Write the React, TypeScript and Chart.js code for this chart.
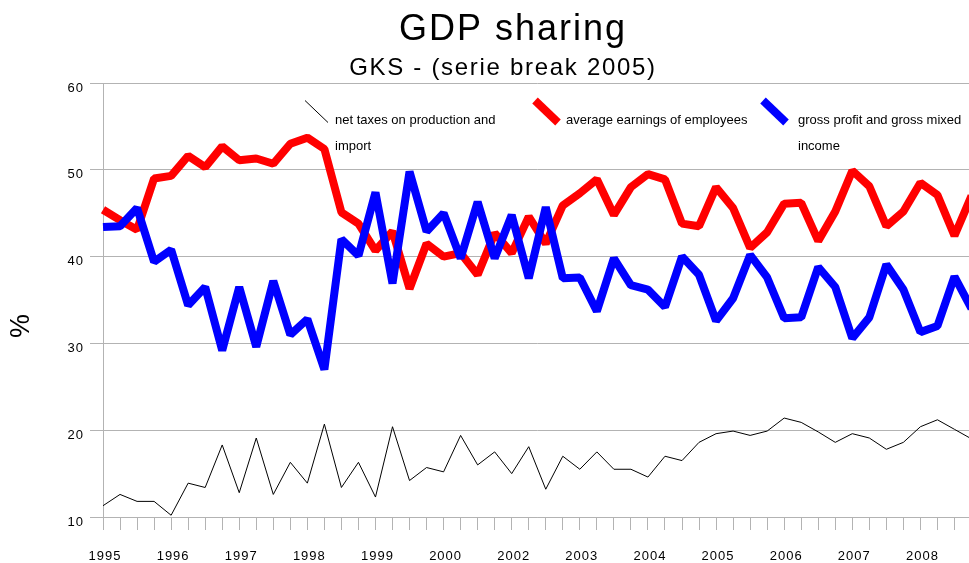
import React, { useEffect, useRef } from 'react';
import { Chart, registerables } from 'chart.js';

Chart.register(...registerables);

// ---- data ----
const yearTicks = ['1995', '1996', '1997', '1998', '1999', '2000', '2002', '2003', '2004', '2005', '2006', '2007', '2008'];

const netTaxes = [
  11.3, 12.6, 11.8, 11.8, 10.2, 13.9, 13.4, 18.3, 12.8, 19.1,
  12.6, 16.3, 13.9, 20.7, 13.4, 16.3, 12.3, 20.4, 14.2, 15.7,
  15.2, 19.4, 16.0, 17.5, 15.0, 18.1, 13.2, 17.0, 15.5, 17.5,
  15.5, 15.5, 14.6, 17.0, 16.5, 18.6, 19.6, 19.9, 19.4, 19.9,
  21.4, 20.9, 19.8, 18.6, 19.6, 19.1, 17.8, 18.6, 20.4, 21.2,
  20.1, 19.0,
];

const avgEarnings = [
  45.4, 44.2, 43.1, 49.0, 49.3, 51.6, 50.3, 52.7, 51.1, 51.3,
  50.7, 53.0, 53.7, 52.4, 45.1, 43.8, 40.7, 42.9, 36.3, 41.5,
  40.0, 40.4, 37.9, 42.7, 40.4, 44.6, 41.5, 45.9, 47.3, 48.9,
  44.8, 48.0, 49.5, 48.9, 43.8, 43.5, 48.0, 45.6, 41.0, 42.8,
  46.1, 46.2, 41.8, 45.2, 49.9, 48.1, 43.5, 45.2, 48.5, 47.1,
  42.4, 47.0,
];

const grossProfit = [
  43.4, 43.5, 45.6, 39.4, 40.8, 34.4, 36.5, 29.2, 36.5, 29.6,
  37.2, 31.0, 32.8, 27.0, 42.0, 40.1, 47.4, 36.9, 49.8, 42.9,
  45.0, 39.8, 46.3, 39.8, 44.8, 37.5, 45.7, 37.5, 37.6, 33.7,
  39.8, 36.7, 36.2, 34.2, 40.0, 37.9, 32.6, 35.2, 40.2, 37.6,
  32.9, 33.0, 38.8, 36.5, 30.6, 33.0, 39.1, 36.2, 31.3, 32.0,
  37.7, 34.0,
];

const seriesNames = [
  'net taxes on production and import',
  'average earnings of employees',
  'gross profit and gross mixed income',
];
const titleText = 'GDP sharing';
const subtitleText = 'GKS - (serie break 2005)';
const yAxisTitle = '%';

const categories = netTaxes.map((_, i) => `${yearTicks[Math.floor(i / 4)]} Q${(i % 4) + 1}`);

// ---- styling ----
const FONT = '"Liberation Sans", Arial, Helvetica, sans-serif';
const GRID = '#b3b3b3';
const CANVAS_W = 990;
const CANVAS_H = 563;

const legendSampleX = [305, 535, 763];
const legendTextX = [335, 566, 798];
const legendWrap = 190;

function wrapText(ctx: CanvasRenderingContext2D, text: string, maxW: number): string[] {
  const words = text.split(' ');
  const lines: string[] = [];
  let cur = '';
  for (const w of words) {
    const test = cur ? cur + ' ' + w : w;
    if (cur && ctx.measureText(test).width > maxW) {
      lines.push(cur);
      cur = w;
    } else {
      cur = test;
    }
  }
  if (cur) lines.push(cur);
  return lines;
}

const decorPlugin = {
  id: 'decor',
  beforeDraw(chart: any) {
    (chart.ctx as any).letterSpacing = '1px';
  },
  afterDraw(chart: any) {
    const ctx = chart.ctx as CanvasRenderingContext2D & { letterSpacing: string };
    // titles
    ctx.save();
    ctx.fillStyle = '#000';
    ctx.textAlign = 'center';
    ctx.textBaseline = 'alphabetic';
    ctx.letterSpacing = '2px';
    ctx.font = `36px ${FONT}`;
    ctx.fillText(titleText, 513, 40);
    ctx.letterSpacing = '1.7px';
    ctx.font = `24px ${FONT}`;
    ctx.fillText(subtitleText, 503, 75);
    ctx.restore();

    // y axis title
    ctx.save();
    ctx.letterSpacing = '0px';
    ctx.fillStyle = '#000';
    ctx.translate(22, 326);
    ctx.rotate(-Math.PI / 2);
    ctx.textAlign = 'center';
    ctx.textBaseline = 'middle';
    ctx.font = `27px ${FONT}`;
    ctx.fillText(yAxisTitle, 0, 0);
    ctx.restore();

    // legend
    ctx.save();
    ctx.letterSpacing = '0px';
    ctx.font = `13px ${FONT}`;
    ctx.textAlign = 'left';
    ctx.textBaseline = 'middle';
    chart.data.datasets.forEach((ds: any, i: number) => {
      const sx = legendSampleX[i];
      ctx.strokeStyle = ds.borderColor;
      ctx.lineWidth = ds.borderWidth;
      ctx.lineCap = 'butt';
      ctx.beginPath();
      ctx.moveTo(sx, 100.5);
      ctx.lineTo(sx + 23, 122.5);
      ctx.stroke();
      ctx.fillStyle = '#000';
      const lines = wrapText(ctx, ds.label, legendWrap);
      lines.forEach((ln, k) => ctx.fillText(ln, legendTextX[i], 120 + k * 26.7));
    });
    ctx.restore();
  },
};

export default function App() {
  const ref = useRef<HTMLCanvasElement | null>(null);

  useEffect(() => {
    if (!ref.current) return;
    Chart.defaults.font.family = FONT;
    const chart = new Chart(ref.current, {
      type: 'line',
      data: {
        labels: categories,
        datasets: [
          {
            label: seriesNames[0],
            data: netTaxes,
            borderColor: '#000000',
            backgroundColor: '#000000',
            borderWidth: 1,
            pointRadius: 0,
            tension: 0,
            fill: false,
            order: 2,
          },
          {
            label: seriesNames[1],
            data: avgEarnings,
            borderColor: '#ff0000',
            backgroundColor: '#ff0000',
            borderWidth: 8,
            borderJoinStyle: 'bevel',
            pointRadius: 0,
            tension: 0,
            fill: false,
            order: 1,
          },
          {
            label: seriesNames[2],
            data: grossProfit,
            borderColor: '#0000ff',
            backgroundColor: '#0000ff',
            borderWidth: 8,
            borderJoinStyle: 'bevel',
            pointRadius: 0,
            tension: 0,
            fill: false,
            order: 0,
          },
        ],
      },
      options: {
        animation: false,
        responsive: false,
        devicePixelRatio: 1,
        layout: { padding: { top: 83, left: 0, right: 11, bottom: 0 } },
        plugins: {
          legend: { display: false },
          title: { display: false },
          tooltip: { enabled: false },
        },
        scales: {
          x: {
            type: 'category',
            offset: false,
            grid: { drawOnChartArea: false, drawTicks: true, tickLength: 13, color: GRID },
            border: { color: GRID },
            ticks: {
              autoSkip: false,
              maxRotation: 0,
              minRotation: 0,
              color: '#000',
              font: { size: 13 },
              padding: 18.5,
              labelOffset: 2,
              callback: (_v: any, idx: number) => (idx % 4 === 0 ? yearTicks[idx / 4] ?? '' : ''),
            },
            afterFit: (scale: any) => {
              scale.height = 46;
            },
          },
          y: {
            min: 10,
            max: 60,
            grid: { color: GRID, tickLength: 13 },
            border: { color: GRID },
            ticks: {
              stepSize: 10,
              color: '#000',
              font: { size: 13 },
              padding: 6,
              labelOffset: 5,
            },
            afterFit: (scale: any) => {
              scale.width = 103;
            },
          },
        },
      },
      plugins: [decorPlugin],
    } as any);
    return () => chart.destroy();
  }, []);

  return (
    <div
      style={{
        position: 'fixed',
        left: 0,
        top: 0,
        width: '969px',
        height: '563px',
        overflow: 'hidden',
        background: '#ffffff',
      }}
    >
      <canvas
        ref={ref}
        width={CANVAS_W}
        height={CANVAS_H}
        style={{ display: 'block', width: `${CANVAS_W}px`, height: `${CANVAS_H}px` }}
      />
    </div>
  );
}
